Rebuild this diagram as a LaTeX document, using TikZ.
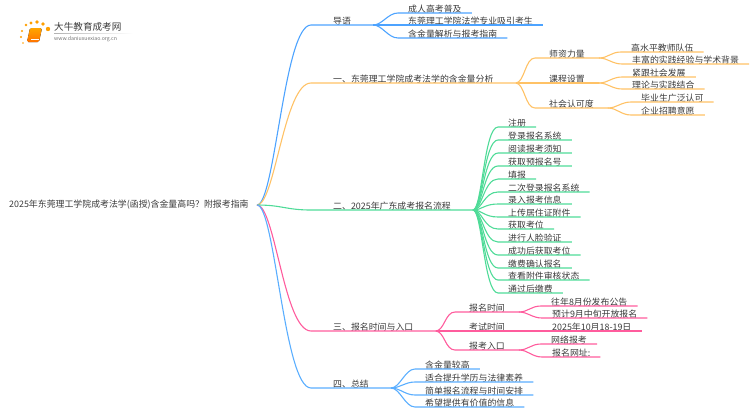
\documentclass[tikz,border=0pt]{standalone}
\usepackage{fontspec}
\setmainfont{Noto Sans CJK SC}
\usetikzlibrary{calc}
\definecolor{guideblue}{HTML}{4DA3FF}
\definecolor{valueorange}{HTML}{FFC266}
\definecolor{flowgreen}{HTML}{4FDB98}
\definecolor{timepink}{HTML}{FF5C9D}
\definecolor{sumblue}{HTML}{5AAEFF}
\definecolor{inkgrey}{HTML}{3A3A3A}
\tikzset{
    x=1pt, y=-1pt,
    font={\fontsize{8.9pt}{10}\selectfont},
    textitem/.style={
        anchor=south west,
        text=inkgrey,
        text height=7.5pt,
        text depth=0.2pt,
        inner ysep=0pt
    },
    mainitem/.style={textitem, inner xsep=22pt},
    miditem/.style={textitem, inner xsep=14pt},
    leafitem/.style={textitem, inner xsep=10pt},
    swing/.style 2 args={to path={.. controls +(#1,0) and +(-#2,0) .. (\tikztotarget) \tikztonodes}},
    trunk/.style={swing={18}{27}},
    stem/.style={swing={9}{14}},
    twig/.style={swing={9}{10}},
    link/.style={line width=1.1pt},
    guidelink/.style={link, draw=guideblue},
    valuelink/.style={link, draw=valueorange},
    flowlink/.style={link, draw=flowgreen},
    timelink/.style={link, draw=timepink},
    sumlink/.style={link, draw=sumblue},
}
\begin{document}
\begin{tikzpicture}
\useasboundingbox (0,0) rectangle (750,410);
% logo
\foreach \dotx/\doty/\dotr in {26/25/1.3,31/23/1.7,37/22/1.9,43/24/1.9,48/29/2.2,22/31/1.2,21/37/1.1,23/43/0.9}
    \fill[orange!75!yellow] (\dotx,\doty) circle (\dotr);
\fill[rounded corners=1.5pt, top color=orange!70!yellow, bottom color=orange!90!red] (30,28) -- (42,28) -- (39,42) -- (27,42) -- cycle;
\draw[white, line width=0.5pt] (31,39.5) -- (39,39.5);
\shade[left color=black!30, right color=white] (54,33) rectangle (133,33.6);
\node[anchor=west, inner sep=0pt, text=inkgrey, font={\fontsize{9.6pt}{10}\selectfont}] (brand) at (54,27) {大牛教育成考网};
\node[anchor=west, inner sep=0pt, text=black!55, font={\fontsize{5.2pt}{6}\selectfont}] (site) at (54,39) {www.daniuxuexiao.org.cn};
% root
\node[anchor=west, inner sep=0pt, text=inkgrey] (root) at (9,205) {2025年东莞理工学院成考法学(函授)含金量高吗？附报考指南};
\coordinate (hub) at (257,205);
% guide
\node[mainitem] (guide) at (311,25) {导语};
\node[leafitem] (guide1) at (398,13) {成人高考普及};
\node[leafitem] (guide2) at (398,25) {东莞理工学院法学专业吸引考生};
\node[leafitem] (guide3) at (398,38) {含金量解析与报考指南};
\draw[guidelink, trunk] (hub) to (guide.south west) -- (guide.south east);
\draw[guidelink, twig] (guide.south east) to (guide1.south west) -- (guide1.south east);
\draw[guidelink] (guide.south east) -- (guide2.south west) -- (guide2.south east);
\draw[guidelink, twig] (guide.south east) to (guide3.south west) -- (guide3.south east);
% value
\node[mainitem] (value) at (311,83) {一、东莞理工学院成考法学的含金量分析};
\node[miditem] (staff) at (535,58) {师资力量};
\node[miditem] (course) at (535,83) {课程设置};
\node[miditem] (credit) at (535,108) {社会认可度};
\node[leafitem] (staff1) at (621,52) {高水平教师队伍};
\node[leafitem] (staff2) at (622,64) {丰富的实践经验与学术背景};
\node[leafitem] (course1) at (622,77) {紧跟社会发展};
\node[leafitem] (course2) at (622,89) {理论与实践结合};
\node[leafitem] (credit1) at (631,102) {毕业生广泛认可};
\node[leafitem] (credit2) at (631,115) {企业招聘意愿};
\draw[valuelink, trunk] (hub) to (value.south west) -- (value.south east);
\draw[valuelink, twig] (value.south east) to (staff.south west) -- (staff.south east);
\draw[valuelink] (value.south east) -- (course.south west) -- (course.south east);
\draw[valuelink, twig] (value.south east) to (credit.south west) -- (credit.south east);
\draw[valuelink, twig] (staff.south east) to (staff1.south west) -- (staff1.south east);
\draw[valuelink, twig] (staff.south east) to (staff2.south west) -- (staff2.south east);
\draw[valuelink, twig] (course.south east) to (course1.south west) -- (course1.south east);
\draw[valuelink, twig] (course.south east) to (course2.south west) -- (course2.south east);
\draw[valuelink, twig] (credit.south east) to (credit1.south west) -- (credit1.south east);
\draw[valuelink, twig] (credit.south east) to (credit2.south west) -- (credit2.south east);
% flow
\node[mainitem] (flow) at (311,210) {二、2025年广东成考报名流程};
\node[leafitem] (flow1) at (498,127) {注册};
\node[leafitem] (flow2) at (498,140) {登录报名系统};
\node[leafitem] (flow3) at (498,153) {阅读报考须知};
\node[leafitem] (flow4) at (498,166) {获取预报名号};
\node[leafitem] (flow5) at (498,179) {填报};
\node[leafitem] (flow6) at (498,192) {二次登录报名系统};
\node[leafitem] (flow7) at (498,204) {录入报考信息};
\node[leafitem] (flow8) at (498,217) {上传居住证附件};
\node[leafitem] (flow9) at (498,229) {获取考位};
\node[leafitem] (flow10) at (498,242) {进行人脸验证};
\node[leafitem] (flow11) at (498,255) {成功后获取考位};
\node[leafitem] (flow12) at (498,268) {缴费确认报名};
\node[leafitem] (flow13) at (498,280) {查看附件审核状态};
\node[leafitem] (flow14) at (498,293) {通过后缴费};
\draw[flowlink, swing={25}{25}] (hub) to (flow.south west) -- (flow.south east);
\foreach \leaf in {1,...,14}
    \draw[flowlink, stem] (flow.south east) to (flow\leaf.south west) -- (flow\leaf.south east);
% time
\node[mainitem] (time) at (311,331) {三、报名时间与入口};
\node[miditem] (enroll) at (455,312) {报名时间};
\node[miditem] (exam) at (455,331) {考试时间};
\node[miditem] (entry) at (455,350) {报考入口};
\node[leafitem] (enroll1) at (541,306) {往年8月份发布公告};
\node[leafitem] (enroll2) at (542,318) {预计9月中旬开放报名};
\node[leafitem] (examdate) at (542,331) {2025年10月18-19日};
\node[leafitem] (entry1) at (541,344) {网络报考};
\node[leafitem] (entry2) at (542,357) {报名网址:};
\draw[timelink, trunk] (hub) to (time.south west) -- (time.south east);
\draw[timelink, twig] (time.south east) to (enroll.south west) -- (enroll.south east);
\draw[timelink] (time.south east) -- (exam.south west) -- (examdate.south east);
\draw[timelink, twig] (time.south east) to (entry.south west) -- (entry.south east);
\draw[timelink, twig] (enroll.south east) to (enroll1.south west) -- (enroll1.south east);
\draw[timelink, twig] (enroll.south east) to (enroll2.south west) -- (enroll2.south east);
\draw[timelink, twig] (entry.south east) to (entry1.south west) -- (entry1.south east);
\draw[timelink, twig] (entry.south east) to (entry2.south west) -- (entry2.south east);
% summary
\node[mainitem] (sum) at (311,388) {四、总结};
\node[leafitem] (sum1) at (415,369) {含金量较高};
\node[leafitem] (sum2) at (415,382) {适合提升学历与法律素养};
\node[leafitem] (sum3) at (415,395) {简单报名流程与时间安排};
\node[leafitem] (sum4) at (415,407) {希望提供有价值的信息};
\draw[sumlink, trunk] (hub) to (sum.south west) -- (sum.south east);
\draw[sumlink, twig] (sum.south east) to (sum1.south west) -- (sum1.south east);
\draw[sumlink, twig] (sum.south east) to (sum2.south west) -- (sum2.south east);
\draw[sumlink, twig] (sum.south east) to (sum3.south west) -- (sum3.south east);
\draw[sumlink, twig] (sum.south east) to (sum4.south west) -- (sum4.south east);
\end{tikzpicture}
\end{document}
